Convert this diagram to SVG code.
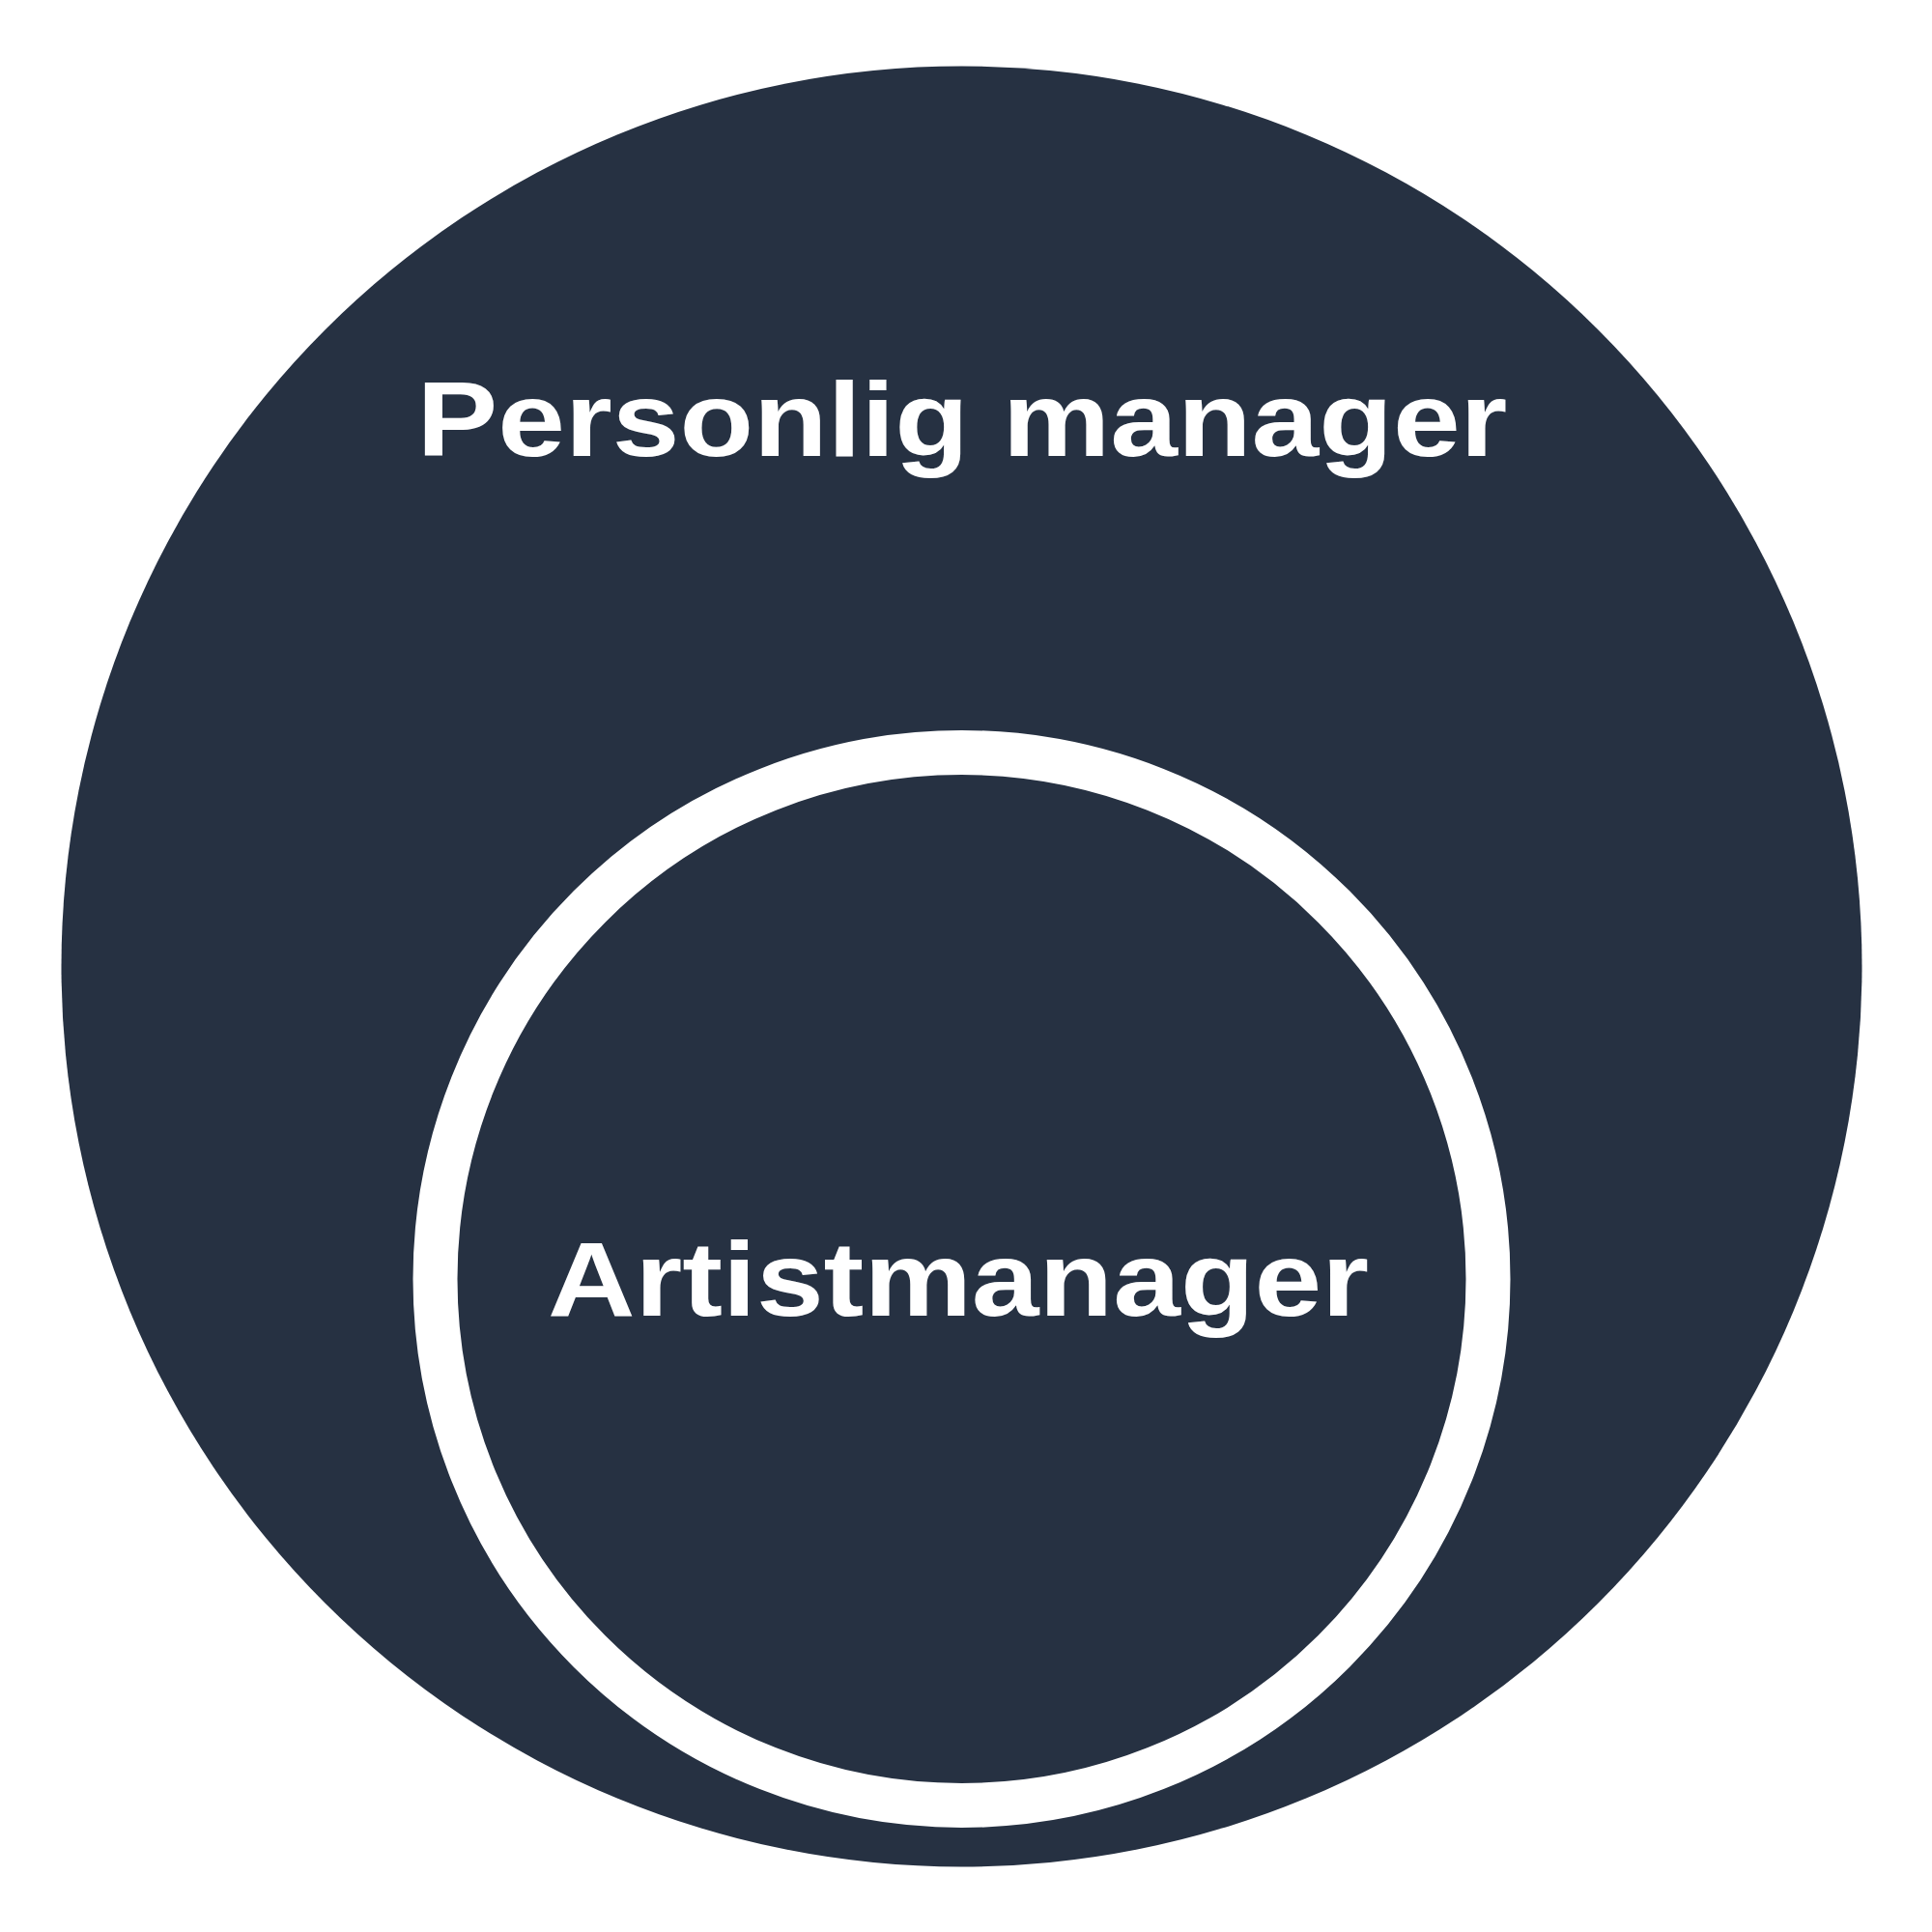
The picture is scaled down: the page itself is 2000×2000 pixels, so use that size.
<svg xmlns="http://www.w3.org/2000/svg" width="2000" height="2000" viewBox="0 0 2000 2000">
  <style>
    .lbl { font-family: "Liberation Sans", Arial, sans-serif; font-weight: bold; font-size: 110px; fill: #ffffff; text-anchor: middle; }
  </style>
  <rect x="0" y="0" width="2000" height="2000" fill="#ffffff"/>
  <g id="personlig-manager">
    <circle cx="995.5" cy="1000.5" r="932" fill="#263142"/>
    <text class="lbl" transform="translate(996,472) scale(1.14,1)" x="0" y="0">Personlig manager</text>
  </g>
  <g id="artistmanager">
    <circle cx="995.5" cy="1324" r="545" fill="#263142" stroke="#ffffff" stroke-width="46"/>
    <text class="lbl" transform="translate(992,1362) scale(1.14,1)" x="0" y="0">Artistmanager</text>
  </g>
  <g id="connectors"></g>
</svg>
